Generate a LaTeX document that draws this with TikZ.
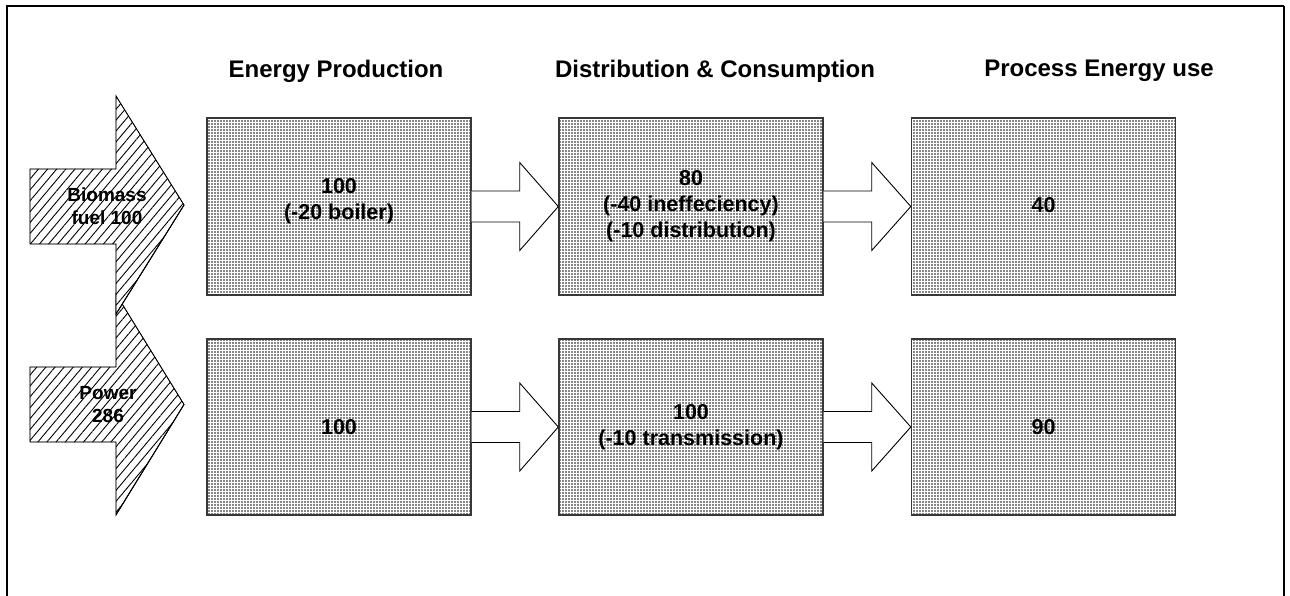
\documentclass[tikz,border=0pt]{standalone}
\usepackage{fontspec}
\setmainfont{Liberation Sans}
\usetikzlibrary{patterns,patterns.meta,calc}
\definecolor{boxgray}{RGB}{135,135,135}
\definecolor{boxline}{RGB}{55,55,55}
\newcommand\flowarr[2]{%
  \draw[flowshape] ($(#1.east)+(0,-15.5)$) -- ++(48,0) -- ++(0,-28.5) -- (#2.west)
    -- ($(#1.east)+(48,44)$) -- ++(0,-28.5) -- ($(#1.east)+(0,15.5)$);}
\begin{document}
\begin{tikzpicture}[x=1pt,y=-1pt,
  box/.style={fill=boxgray,
    postaction={pattern=grid, pattern color=white},
    postaction={draw=boxline, line width=1.4pt},
    minimum width=264pt, minimum height=177pt, inner sep=0pt, outer sep=0.7pt},
  boxtext/.style={font=\fontsize{21.5}{26}\selectfont\bfseries, align=center, inner sep=0pt},
  headtext/.style={font=\fontsize{24}{28}\selectfont\bfseries, inner sep=0pt},
  bigarrow/.style={fill=white, line join=miter,
    postaction={pattern={Lines[angle=50,distance=7pt,line width=0.9pt]}},
    postaction={draw=black, line width=0.9pt}},
  flowshape/.style={draw=black, line width=0.9pt, fill=white},
  arrowtext/.style={font=\fontsize{19}{22.5}\selectfont\bfseries, align=center, inner sep=0pt}]
\useasboundingbox (0,0) rectangle (1290,596);
% frame
\draw[line width=1.4pt] (7,596) -- (7,6) -- (1284,6);
\draw[line width=2pt] (1284,6) -- (1284,596);
% headers
\node[headtext] (h1) at (336,71) {Energy Production};
\node[headtext] (h2) at (715,71) {Distribution \& Consumption};
\node[headtext] (h3) at (1099,71) {Process Energy use};
% boxes
\node[box] (p1) at (339,206.5) {};
\node[box] (d1) at (691,206.5) {};
\node[box] (u1) at (1043.5,206.5) {};
\node[box, minimum height=176pt] (p2) at (339,427) {};
\node[box, minimum height=176pt] (d2) at (691,427) {};
\node[box, minimum height=176pt] (u2) at (1043.5,427) {};
% box texts
\node[boxtext] (tp1) at (339,201) {100\\(-20 boiler)};
\node[boxtext] (td1) at (691,206) {80\\(-40 ineffeciency)\\(-10 distribution)};
\node[boxtext] (tu1) at (1043.5,205) {40};
\node[boxtext] (tp2) at (339,427) {100};
\node[boxtext] (td2) at (691,427.5) {100\\(-10 transmission)};
\node[boxtext] (tu2) at (1043.5,427) {90};
% flow arrows
\flowarr{p1}{d1}
\flowarr{d1}{u1}
\flowarr{p2}{d2}
\flowarr{d2}{u2}
% big input arrows (lower first, upper on top)
\draw[bigarrow] (30,367) -- (116,367) -- (116,294) -- (184,404.5) -- (116,515) -- (116,442) -- (30,442) -- cycle;
\draw[line width=0.8pt] (184,404.5) -- (172,424) -- (117,513);
\draw[bigarrow] (30,169) -- (116,169) -- (116,96) -- (184,205) -- (116,314) -- (116,244) -- (30,244) -- cycle;
\draw[line width=0.8pt] (184,205) -- (171,226) -- (118,311);
\node[arrowtext] (a1) at (107,206) {Biomass\\fuel 100};
\node[arrowtext] (a2) at (108,404.5) {Power\\286};
\end{tikzpicture}
\end{document}
